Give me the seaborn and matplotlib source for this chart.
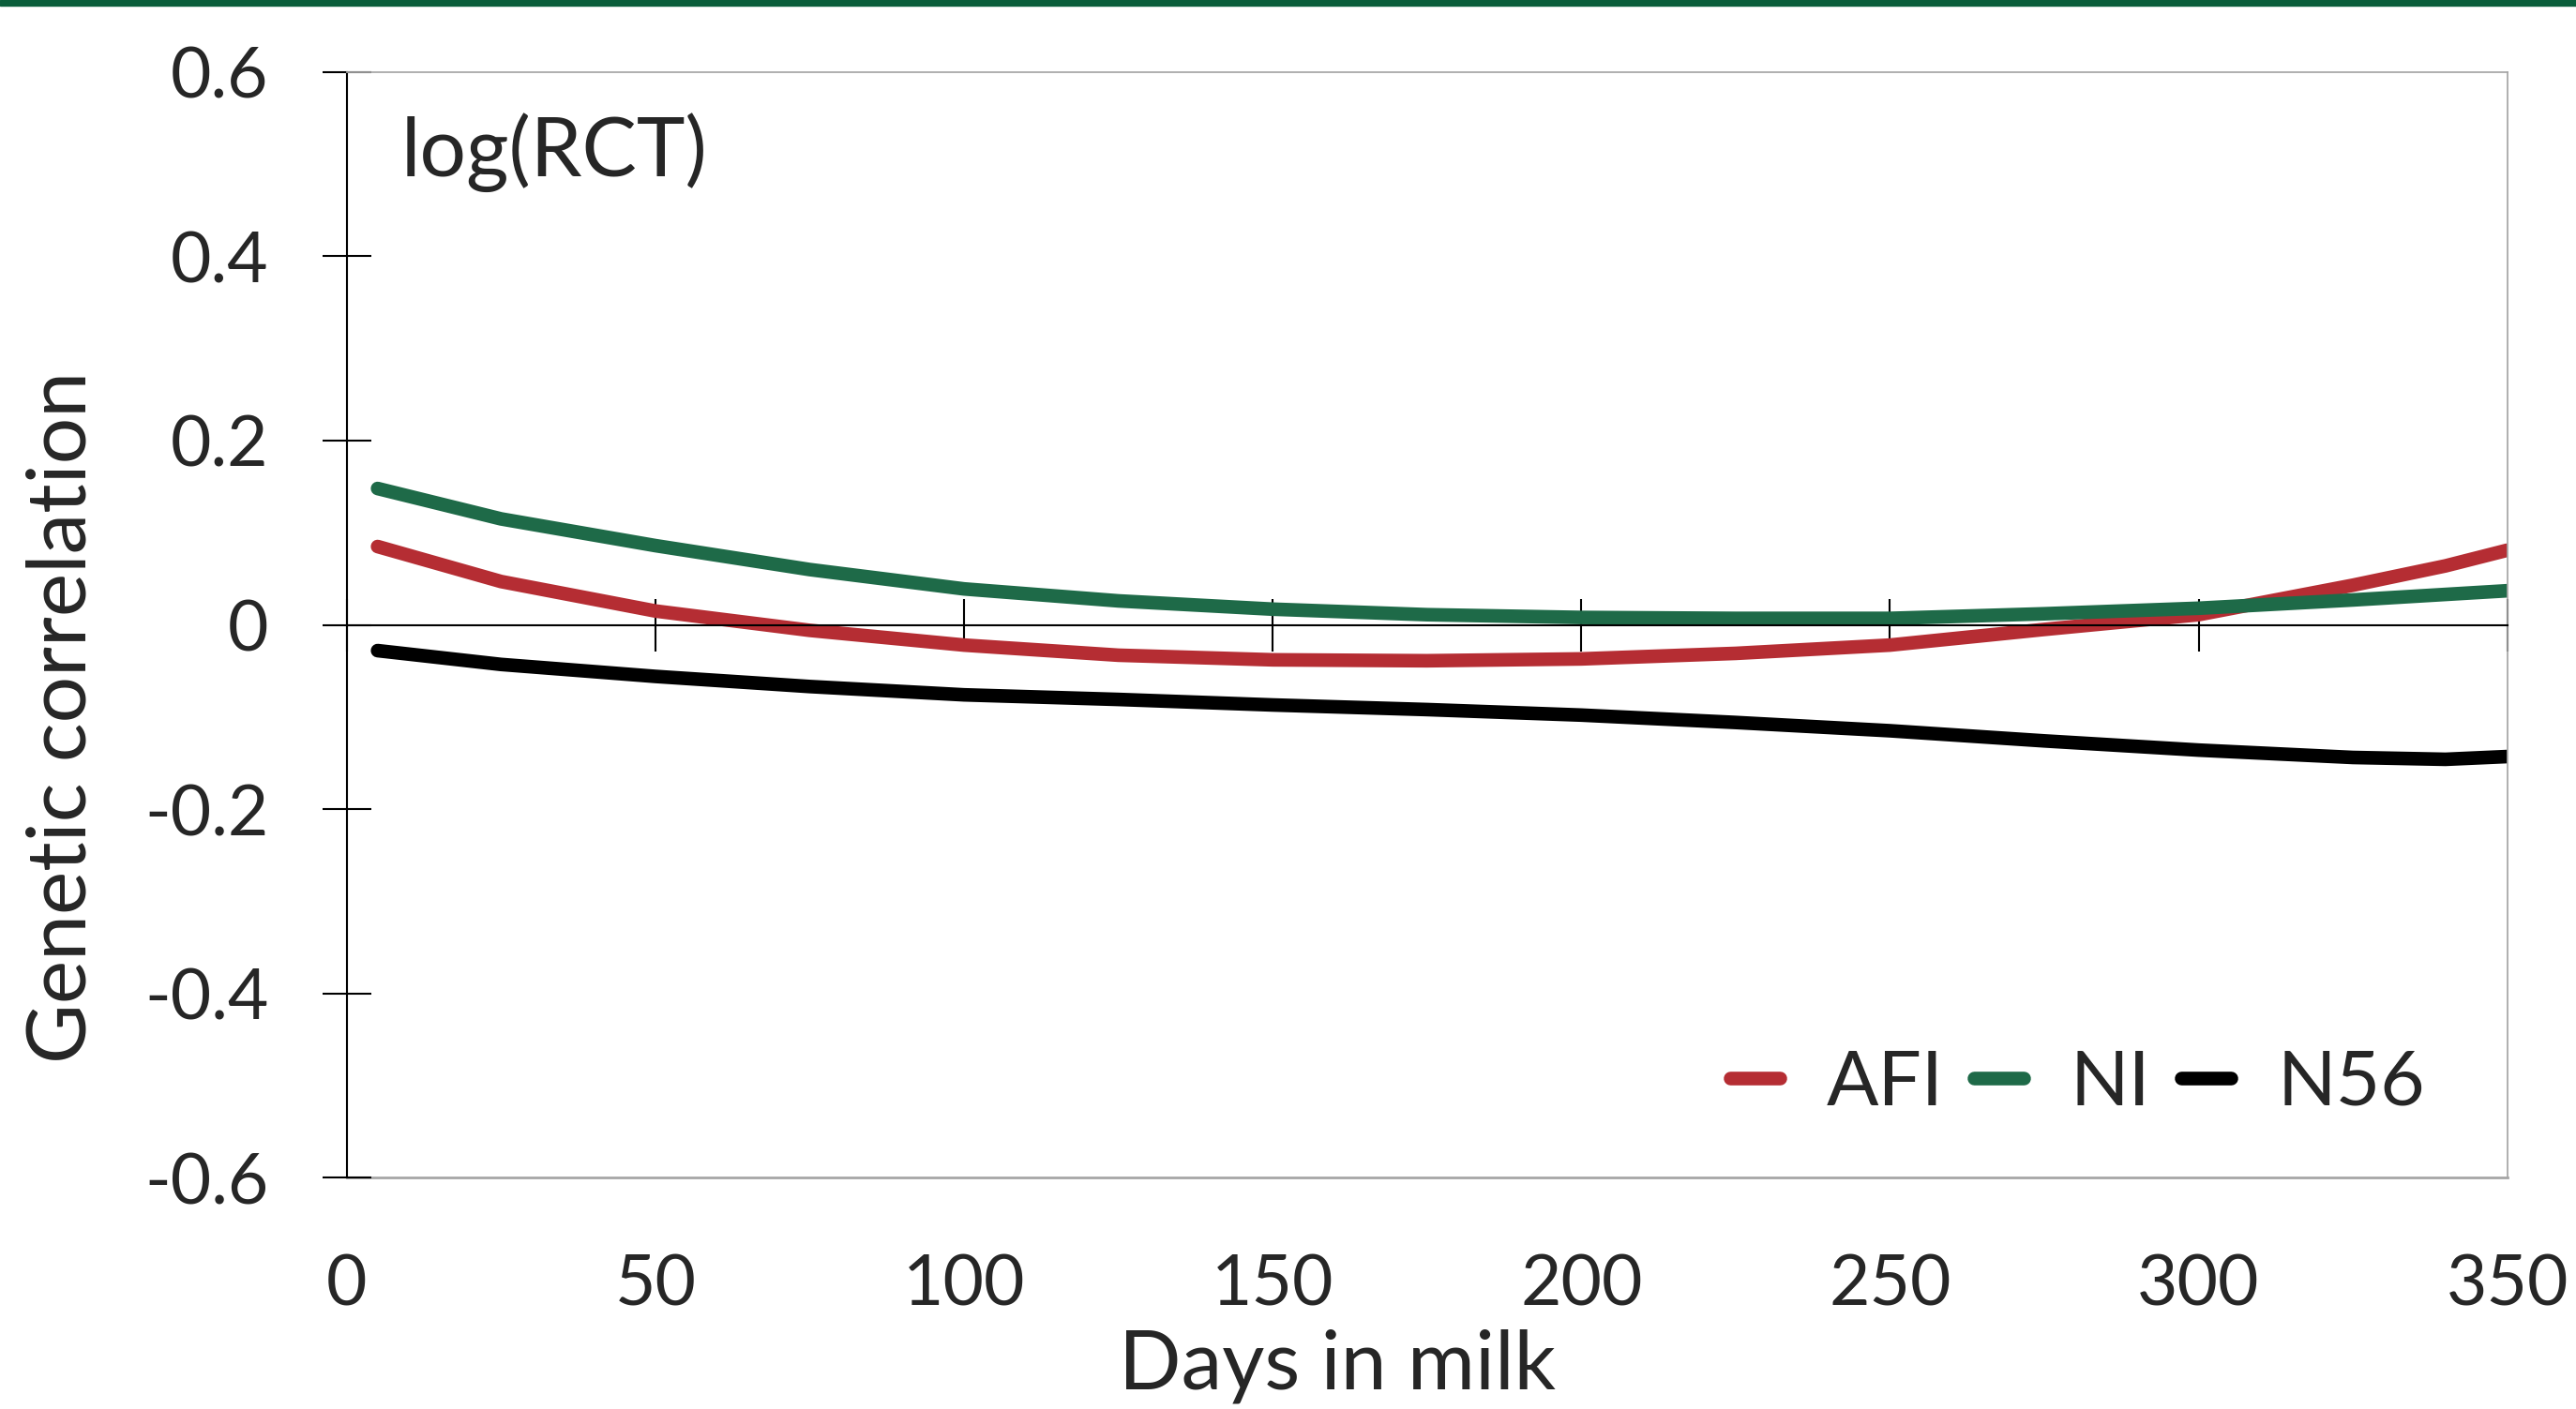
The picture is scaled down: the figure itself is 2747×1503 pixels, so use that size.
import pandas as pd
import matplotlib.pyplot as plt
import seaborn as sns
from matplotlib.patches import Rectangle
from matplotlib.ticker import FuncFormatter

# days in milk and genetic correlations
days = [5, 25, 50, 75, 100, 125, 150, 175, 200, 225, 250, 275, 300, 325, 340, 350]
afi = [0.085, 0.047, 0.015, -0.006, -0.022, -0.033, -0.038, -0.039, -0.037, -0.031,
       -0.022, -0.005, 0.011, 0.043, 0.064, 0.081]
ni = [0.148, 0.115, 0.086, 0.060, 0.039, 0.026, 0.017, 0.011, 0.008, 0.007,
      0.007, 0.012, 0.018, 0.027, 0.033, 0.037]
n56 = [-0.028, -0.043, -0.056, -0.067, -0.076, -0.081, -0.087, -0.092, -0.098, -0.106,
       -0.115, -0.126, -0.136, -0.144, -0.146, -0.143]

traits = ['AFI', 'NI', 'N56']
colors = {'AFI': '#b52d33', 'NI': '#1e6a48', 'N56': '#000000'}
x_ticks = [0, 50, 100, 150, 200, 250, 300, 350]
y_ticks = [-0.6, -0.4, -0.2, 0, 0.2, 0.4, 0.6]

df = pd.DataFrame({'Days': days * 3,
                   'r': afi + ni + n56,
                   'Trait': ['AFI'] * len(days) + ['NI'] * len(days) + ['N56'] * len(days)})

sns.set_theme(style='white')
plt.rcParams['font.family'] = ['Lato', 'DejaVu Sans']
plt.rcParams['axes.unicode_minus'] = False
fs = 54
fs_big = 63

fig = plt.figure(figsize=(27.47, 15.03), dpi=100)
ax = fig.add_axes([0.1346, 0.1643, 0.8387, 0.7845])

sns.lineplot(data=df, x='Days', y='r', hue='Trait', hue_order=traits,
             palette=colors, linewidth=10.5, ax=ax, solid_capstyle='round')

ax.set_xlim(0, 350)
ax.set_ylim(-0.6, 0.6)
ax.set_xlabel('')
ax.set_ylabel('')

grey = '#a6a6a6'
ax.spines['top'].set_color(grey)
ax.spines['right'].set_color(grey)
ax.spines['left'].set_color('black')
ax.spines['left'].set_linewidth(1.5)
ax.spines['bottom'].set_position(('data', 0))
ax.spines['bottom'].set_color('black')
ax.spines['bottom'].set_linewidth(1.5)

ax.set_yticks(y_ticks)
ax.yaxis.set_major_formatter(FuncFormatter(lambda v, p: '0' if abs(v) < 1e-9 else f'{v:.1f}'))
ax.tick_params(axis='y', direction='inout', length=38, width=1.5, color='black',
               labelsize=fs, pad=41, left=True)
ax.set_xticks(x_ticks)
ax.tick_params(axis='x', direction='inout', length=40, width=1.5, color='black',
               labelbottom=False, bottom=True)

# tick labels along the bottom of the plot area
sec = ax.secondary_xaxis('bottom')
sec.set_xticks(x_ticks)
sec.tick_params(length=0, labelsize=fs, pad=58)
sec.spines['bottom'].set_color(grey)
sec.spines['bottom'].set_linewidth(2)

ax.text(0.025, 0.963, 'log(RCT)', transform=ax.transAxes, ha='left', va='top', fontsize=fs_big)

fig.text(0.0244, 0.491, 'Genetic correlation', rotation=90, ha='center', va='center', fontsize=fs_big)
fig.text(0.519, 0.004, 'Days in milk', ha='center', va='bottom', fontsize=fs_big)

sns.move_legend(ax, 'center right', bbox_to_anchor=(0.962, 0.085), ncol=3, title=None,
                frameon=False, fontsize=59, handlelength=0.65, handletextpad=0.6,
                columnspacing=0.4, borderpad=0, borderaxespad=0)
for line in ax.get_legend().get_lines():
    line.set_linewidth(10.5)
    line.set_solid_capstyle('round')

fig.add_artist(Rectangle((0, 1 - 6 / 1503), 1, 6 / 1503, transform=fig.transFigure,
                         color='#0b5e3b', zorder=10))

fig.savefig('out.png', dpi=100)
